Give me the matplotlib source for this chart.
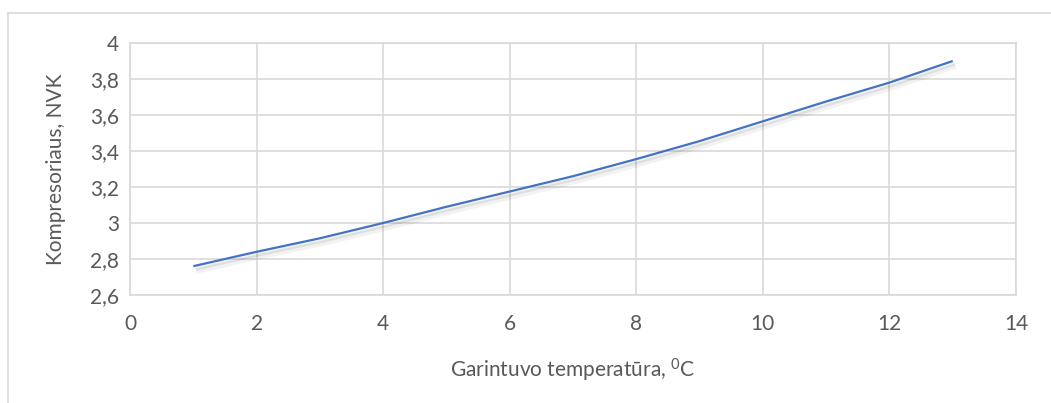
import matplotlib
matplotlib.use("Agg")
import matplotlib.pyplot as plt
import matplotlib.patheffects as pe
from matplotlib.lines import Line2D
from matplotlib.ticker import FuncFormatter

# evaporator temperature, C  /  compressor COP
temp = [1, 2, 3, 4, 5, 6, 7, 8, 9, 10, 11, 12, 13]
nvk = [2.76, 2.84, 2.915, 3.0, 3.09, 3.175, 3.26, 3.355, 3.455, 3.565, 3.675, 3.78, 3.90]

xticks = [0, 2, 4, 6, 8, 10, 12, 14]
yticks = [2.6, 2.8, 3.0, 3.2, 3.4, 3.6, 3.8, 4.0]

txt = "#595959"
grid = "#D9D9D9"
plt.rcParams['font.family'] = ['Lato', 'DejaVu Sans']
plt.rcParams['mathtext.fontset'] = 'custom'
plt.rcParams['mathtext.rm'] = 'Lato'

fig = plt.figure(figsize=(10.51, 4.03), dpi=100)
ax = fig.add_axes([130/1051, 1-295/403, (1016-130)/1051, (295-43)/403])

shadow = [pe.SimpleLineShadow(offset=(2, -3), shadow_color="#000000", alpha=0.05, linewidth=5),
          pe.SimpleLineShadow(offset=(1.5, -2.5), shadow_color="#000000", alpha=0.08),
          pe.Normal()]
ax.plot(temp, nvk, color="#4472C4", lw=1.6, path_effects=shadow, solid_capstyle="butt")

ax.set_xlim(0, 14)
ax.set_ylim(2.6, 4.0)
ax.set_xticks(xticks)
ax.set_yticks(yticks)
fmt = lambda v, p: ("%g" % round(v, 1)).replace(".", ",")
ax.xaxis.set_major_formatter(FuncFormatter(fmt))
ax.yaxis.set_major_formatter(FuncFormatter(fmt))
ax.grid(True, color=grid, lw=1.2)
ax.set_axisbelow(True)
for s in ax.spines.values():
    s.set_color(grid)
    s.set_linewidth(1.2)
ax.tick_params(length=0, labelsize=15, labelcolor=txt, pad=8)
ax.tick_params(axis="x", pad=14)

ax.set_xlabel(r"Garintuvo temperatūra, $\mathrm{^{0}}$C", fontsize=15, color=txt, labelpad=16)
ax.set_ylabel("Kompresoriaus, NVK", fontsize=15, color=txt, labelpad=17)

# outer chart border (cropped on the right and bottom)
fig.add_artist(Line2D([8/1051, 8/1051], [0, 1-13/403], transform=fig.transFigure, color=grid, lw=1.2))
fig.add_artist(Line2D([8/1051, 1], [1-13/403, 1-13/403], transform=fig.transFigure, color=grid, lw=1.2))

fig.savefig("out.png", dpi=100)
